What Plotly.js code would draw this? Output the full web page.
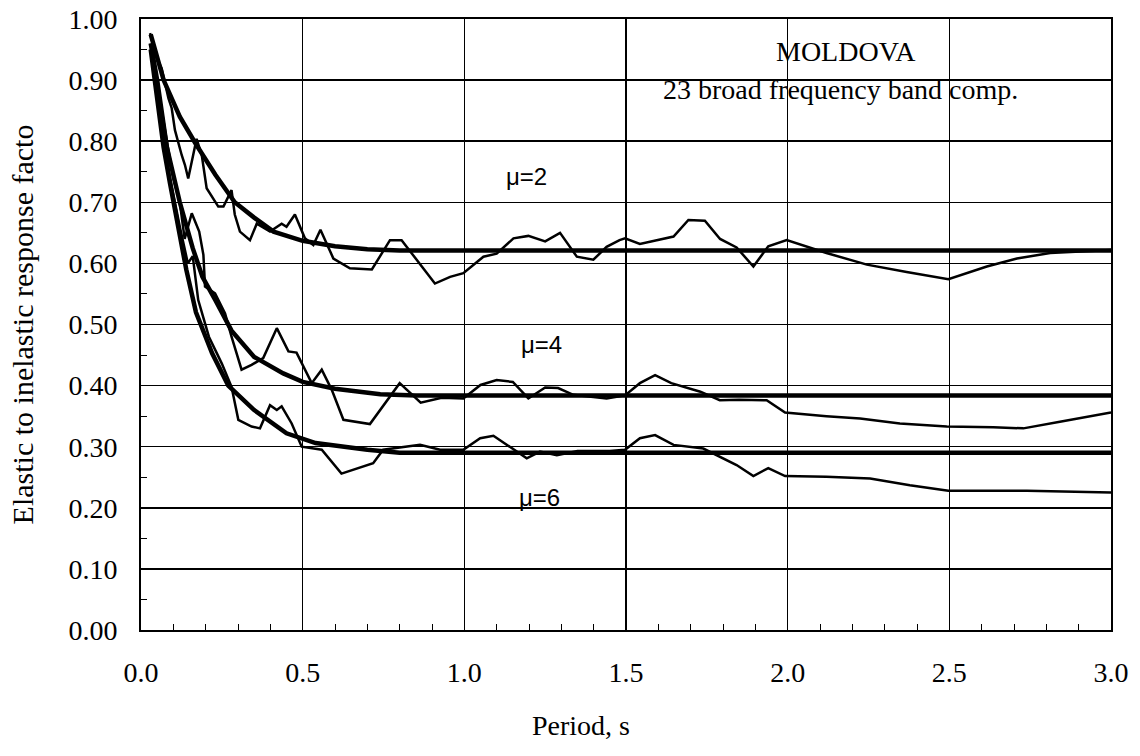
<!DOCTYPE html>
<html>
<head>
<meta charset="utf-8">
<script src="https://cdn.plot.ly/plotly-3.0.1.min.js"></script>
<style>html,body{margin:0;padding:0;background:#fff;}#chart{width:1140px;height:756px;}</style>
</head>
<body>
<div id="chart"></div>
<script>
// Fitted (smooth) curves
const mu2FitT = [0.03,0.07,0.12,0.17,0.23,0.29,0.35,0.41,0.50,0.60,0.70,0.80,3.0];
const mu2FitV = [0.975,0.90,0.84,0.795,0.745,0.70,0.675,0.652,0.637,0.628,0.623,0.621,0.621];
const mu4FitT = [0.03,0.05,0.08,0.12,0.16,0.19,0.23,0.28,0.35,0.44,0.50,0.60,0.74,0.85,3.0];
const mu4FitV = [0.96,0.90,0.79,0.70,0.625,0.578,0.54,0.49,0.447,0.42,0.406,0.395,0.386,0.384,0.384];
const mu6FitT = [0.03,0.05,0.07,0.09,0.11,0.14,0.17,0.22,0.27,0.35,0.45,0.54,0.70,0.80,3.0];
const mu6FitV = [0.95,0.87,0.79,0.73,0.67,0.59,0.52,0.453,0.40,0.36,0.322,0.306,0.295,0.29,0.29];

// Computed (jagged) curves
const mu2T = [0.028,0.049,0.064,0.085,0.095,0.105,0.126,0.136,0.146,0.172,0.188,0.203,0.239,0.255,0.28,0.29,0.306,0.337,0.358,0.399,0.435,0.45,0.476,0.507,0.533,0.555,0.595,0.646,0.714,0.77,0.806,0.909,0.956,0.997,1.059,1.10,1.152,1.198,1.25,1.296,1.348,1.399,1.44,1.48,1.497,1.543,1.647,1.693,1.744,1.791,1.842,1.894,1.94,1.997,2.12,2.245,2.368,2.497,2.616,2.709,2.812,3.0];
const mu2V = [0.977,0.936,0.919,0.870,0.854,0.818,0.777,0.761,0.739,0.804,0.777,0.723,0.693,0.693,0.72,0.68,0.652,0.638,0.665,0.652,0.665,0.66,0.68,0.641,0.63,0.655,0.608,0.592,0.59,0.638,0.638,0.567,0.578,0.584,0.611,0.616,0.641,0.645,0.636,0.65,0.611,0.606,0.627,0.638,0.641,0.632,0.644,0.671,0.670,0.64,0.626,0.595,0.628,0.638,0.617,0.598,0.586,0.574,0.595,0.608,0.617,0.622];
const mu4T = [0.03,0.06,0.08,0.10,0.12,0.135,0.157,0.18,0.193,0.198,0.229,0.26,0.28,0.311,0.342,0.378,0.42,0.456,0.481,0.528,0.559,0.59,0.626,0.708,0.80,0.865,0.93,0.997,1.05,1.10,1.15,1.198,1.25,1.29,1.337,1.44,1.497,1.543,1.59,1.64,1.73,1.79,1.85,1.935,1.992,2.12,2.224,2.347,2.492,2.636,2.729,2.842,3.0];
const mu4V = [0.96,0.86,0.80,0.74,0.70,0.64,0.682,0.652,0.614,0.562,0.551,0.518,0.48,0.426,0.434,0.445,0.494,0.456,0.454,0.404,0.426,0.393,0.344,0.337,0.404,0.372,0.38,0.379,0.401,0.409,0.406,0.379,0.397,0.396,0.385,0.379,0.384,0.404,0.417,0.404,0.39,0.376,0.377,0.376,0.356,0.35,0.346,0.338,0.333,0.332,0.33,0.341,0.356];
const mu6T = [0.03,0.06,0.09,0.12,0.145,0.16,0.177,0.21,0.25,0.28,0.301,0.342,0.368,0.399,0.42,0.435,0.466,0.497,0.559,0.62,0.718,0.749,0.863,0.925,0.997,1.049,1.09,1.141,1.193,1.234,1.286,1.35,1.45,1.497,1.543,1.59,1.647,1.739,1.842,1.894,1.94,1.992,2.12,2.255,2.378,2.497,2.74,3.0];
const mu6V = [0.95,0.84,0.74,0.66,0.60,0.612,0.54,0.48,0.436,0.398,0.344,0.333,0.33,0.368,0.36,0.366,0.338,0.30,0.295,0.256,0.273,0.295,0.303,0.295,0.295,0.314,0.318,0.30,0.281,0.292,0.286,0.293,0.293,0.295,0.314,0.319,0.303,0.297,0.27,0.252,0.265,0.252,0.251,0.248,0.237,0.228,0.228,0.225];

const xTickVals = [0,0.5,1.0,1.5,2.0,2.5,3.0];
const xTickText = ['0.0','0.5','1.0','1.5','2.0','2.5','3.0'];
const yTickVals = [0,0.1,0.2,0.3,0.4,0.5,0.6,0.7,0.8,0.9,1.0];
const yTickText = ['0.00','0.10','0.20','0.30','0.40','0.50','0.60','0.70','0.80','0.90','1.00'];

const fitLine = {color:'#000', width:4.5};
const dataLine = {color:'#000', width:2.5};
const traces = [
  {x:mu2FitT, y:mu2FitV, mode:'lines', line:fitLine, name:'μ=2 fit'},
  {x:mu4FitT, y:mu4FitV, mode:'lines', line:fitLine, name:'μ=4 fit'},
  {x:mu6FitT, y:mu6FitV, mode:'lines', line:fitLine, name:'μ=6 fit'},
  {x:mu2T, y:mu2V, mode:'lines', line:dataLine, name:'μ=2'},
  {x:mu4T, y:mu4V, mode:'lines', line:dataLine, name:'μ=4'},
  {x:mu6T, y:mu6V, mode:'lines', line:dataLine, name:'μ=6'}
];

const serif = 'Liberation Serif';
const sans = 'Liberation Sans';

const layout = {
  width:1140, height:756,
  margin:{l:141, r:29, t:19, b:126},
  paper_bgcolor:'#fff', plot_bgcolor:'#fff',
  showlegend:false,
  font:{family:serif, color:'#000', size:26},
  xaxis:{
    range:[0,3], tickvals:xTickVals, ticktext:xTickText,
    showgrid:true, gridcolor:'#000', gridwidth:1.5,
    showline:true, linecolor:'#000', linewidth:2, mirror:true,
    zeroline:false, ticks:'inside', ticklen:6, tickcolor:'#000',
    ticklabelstandoff:16,
    tickfont:{family:serif, size:28, color:'#000'},
    minor:{dtick:0.1, ticks:'inside', ticklen:6, tickcolor:'#000', showgrid:false}
  },
  yaxis:{
    range:[0,1], tickvals:yTickVals, ticktext:yTickText,
    showgrid:true, gridcolor:'#000', gridwidth:1.5,
    showline:true, linecolor:'#000', linewidth:2, mirror:true,
    zeroline:false, ticks:'inside', ticklen:6, tickcolor:'#000',
    ticklabelstandoff:16,
    tickfont:{family:serif, size:28, color:'#000'},
    minor:{dtick:0.05, ticks:'inside', ticklen:6, tickcolor:'#000', showgrid:false},
    title:{text:'Elastic to inelastic response facto', font:{family:serif, size:30, color:'#000'}, standoff:26}
  },
  annotations:[
    {text:'Period, s', xref:'paper', yref:'paper', x:(581-141)/970, y:-(725-630)/611, showarrow:false, font:{family:serif, size:28, color:'#000'}, xanchor:'center', yanchor:'middle'},
    {text:'MOLDOVA', xref:'paper', yref:'paper', x:(846-141)/970, y:(630-52)/611, showarrow:false, font:{family:serif, size:28, color:'#000'}, xanchor:'center', yanchor:'middle'},
    {text:'23 broad frequency band comp.', xref:'paper', yref:'paper', x:(840-141)/970, y:(630-90)/611, showarrow:false, font:{family:serif, size:28, color:'#000'}, xanchor:'center', yanchor:'middle'},
    {text:'μ=2', xref:'paper', yref:'paper', x:(526-141)/970, y:(630-177)/611, showarrow:false, font:{family:sans, size:24, color:'#000'}, xanchor:'center', yanchor:'middle'},
    {text:'μ=4', xref:'paper', yref:'paper', x:(541-141)/970, y:(630-344)/611, showarrow:false, font:{family:sans, size:24, color:'#000'}, xanchor:'center', yanchor:'middle'},
    {text:'μ=6', xref:'paper', yref:'paper', x:(539-141)/970, y:(630-497)/611, showarrow:false, font:{family:sans, size:24, color:'#000'}, xanchor:'center', yanchor:'middle'}
  ]
};

Plotly.newPlot('chart', traces, layout, {displayModeBar:false, staticPlot:true});
</script>
</body>
</html>
